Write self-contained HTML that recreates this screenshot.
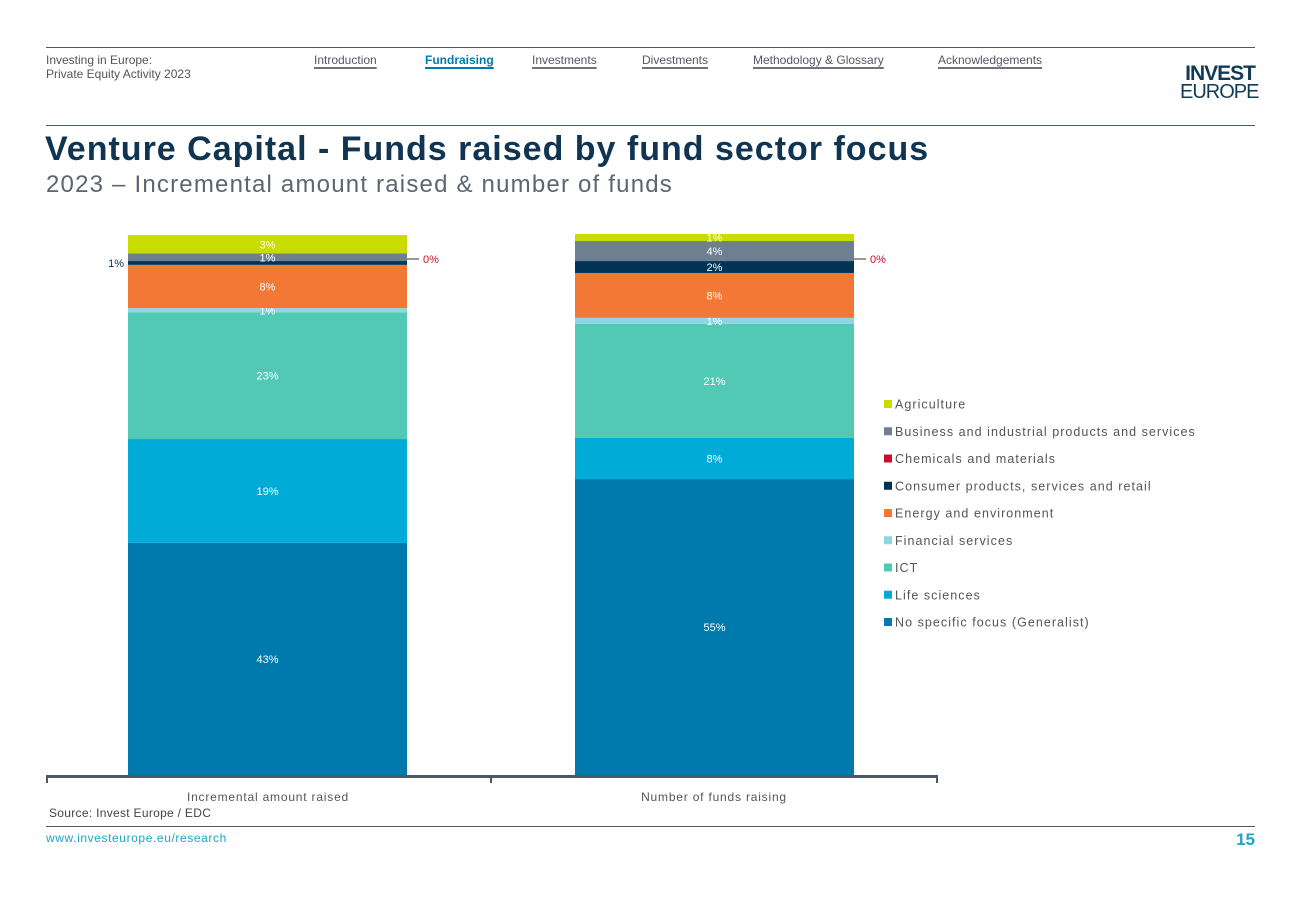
<!DOCTYPE html>
<html><head><meta charset="utf-8"><style>
body{margin:0;width:1300px;height:900px;background:#fff;font-family:"Liberation Sans",sans-serif;position:relative;overflow:hidden}
.a{position:absolute}
.nav{font-size:12px;color:#556;text-decoration:underline;text-decoration-thickness:2px;text-underline-offset:3px;text-decoration-color:#6b7480}
</style></head><body>
<div class="a" style="left:46px;top:47px;width:1209px;height:1px;background:#4a5866"></div>
<div class="a" style="left:46px;top:53px;font-size:12px;color:#555;line-height:14px">Investing in Europe:<br>Private Equity Activity 2023</div>
<a class="a nav" style="left:314px;top:53px">Introduction</a>
<a class="a nav" style="left:425px;top:53px;color:#0079ad;font-weight:bold;text-decoration-color:#0079ad">Fundraising</a>
<a class="a nav" style="left:532px;top:53px">Investments</a>
<a class="a nav" style="left:642px;top:53px">Divestments</a>
<a class="a nav" style="left:753px;top:53px">Methodology &amp; Glossary</a>
<a class="a nav" style="left:938px;top:53px">Acknowledgements</a>
<div class="a" style="left:1180px;top:64px;color:#123a55;line-height:19px;text-align:right;width:75px">
<div style="font-size:21px;font-weight:bold;letter-spacing:-1px">INVEST</div><div style="font-size:20px;letter-spacing:-1px">EUROPE</div></div>
<div class="a" style="left:46px;top:125px;width:1209px;height:1px;background:#4a5866"></div>
<div class="a" style="left:45px;top:130px;font-size:34px;font-weight:bold;color:#0f3553;letter-spacing:1px">Venture Capital - Funds raised by fund sector focus</div>
<div class="a" style="left:46px;top:171px;font-size:24px;color:#5a6670;letter-spacing:1.2px">2023 – Incremental amount raised &amp; number of funds</div>

<svg class="a" style="left:0;top:0" width="1300" height="900" id="chart"></svg>

<div class="a" style="left:49px;top:806px;font-size:12px;color:#444;letter-spacing:0.3px">Source: Invest Europe / EDC</div>
<div class="a" style="left:46px;top:826px;width:1209px;height:1px;background:#4a5866"></div>
<div class="a" style="left:46px;top:831px;font-size:12px;color:#1aa6c9;letter-spacing:0.6px">www.investeurope.eu/research</div>
<div class="a" style="left:1225px;top:830px;width:30px;text-align:right;font-size:17px;font-weight:bold;color:#1aa6c9">15</div>

<script>
const categories=["Incremental amount raised","Number of funds raising"];
const seriesNames=["No specific focus (Generalist)","Life sciences","ICT","Financial services","Energy and environment","Chemicals and materials","Consumer products, services and retail","Business and industrial products and services","Agriculture"];
const colors=["#0079ad","#00acd7","#52c9b5","#8fd6e3","#f37735","#c8102e","#003356","#6e7f8f","#c9dc00"];
const generalist=[42.9,54.7];
const lifeSciences=[19.2,7.6];
const ict=[23.4,21.1];
const financial=[0.8,1.1];
const energy=[8.0,8.3];
const chemicals=[0.0,0.0];
const consumer=[0.7,2.2];
const business=[1.4,3.7];
const agriculture=[3.4,1.3];
const series=[generalist,lifeSciences,ict,financial,energy,chemicals,consumer,business,agriculture];
const svg=document.getElementById('chart');
const NS='http://www.w3.org/2000/svg';
const top0=234,bot=775,barX=[128,575],barW=279;
const y=v=>bot-(v/100)*(bot-top0);
function mk(t,a){const e=document.createElementNS(NS,t);for(const k in a)e.setAttribute(k,a[k]);svg.appendChild(e);return e;}
const font='"Liberation Sans",sans-serif';
categories.forEach((c,ci)=>{
  let cum=0;
  series.forEach((s,si)=>{
    const v=s[ci];const y1=y(cum),y2=y(cum+v);
    const r=mk('rect',{x:barX[ci],y:y2,width:barW,height:y1-y2,fill:colors[si]});
    
    
    const lbl=Math.round(v)+'%';const mid=(y1+y2)/2;
    if(si===5){
      const ly=259;
      mk('line',{x1:barX[ci]+barW,y1:ly,x2:barX[ci]+barW+12,y2:ly,stroke:'#999','stroke-width':2});
      const t=mk('text',{x:barX[ci]+barW+16,y:ly+4,fill:'#c8102e','font-size':11,'font-family':font});t.textContent=lbl;
      
      
    } else if(si===6&&ci===0){
      const t=mk('text',{x:barX[ci]-4,y:mid+4,fill:'#003356','font-size':11,'font-family':font,'text-anchor':'end'});t.textContent=lbl;
      
      
    } else {
      const t=mk('text',{x:barX[ci]+barW/2,y:mid+4,fill:'#fff','font-size':11,'font-family':font,'text-anchor':'middle'});t.textContent=lbl;
      
      
    }
    cum+=v;
  });
  const t=mk('text',{x:[268,714][ci],y:801,fill:'#555','font-size':12,'font-family':font,'text-anchor':'middle','letter-spacing':'0.8'});t.textContent=c;
  
  
});
const ax=mk('line',{x1:46,y1:776.5,x2:938,y2:776.5,stroke:'#4a5866','stroke-width':3});


[47,491,937].forEach(x=>{const tk=mk('line',{x1:x,y1:776,x2:x,y2:783,stroke:'#4a5866','stroke-width':2});

});
const legOrder=[8,7,5,6,4,3,2,1,0];
legOrder.forEach((si,i)=>{
  const ly=404+i*27.25;
  const r=mk('rect',{x:884,y:ly-4,width:8,height:8,fill:colors[si]});
  
  
  const t=mk('text',{x:895,y:ly+4.5,fill:'#555','font-size':12.5,'font-family':font,'letter-spacing':'1.05'});t.textContent=seriesNames[si];
  
  
});
</script>
</body></html>
